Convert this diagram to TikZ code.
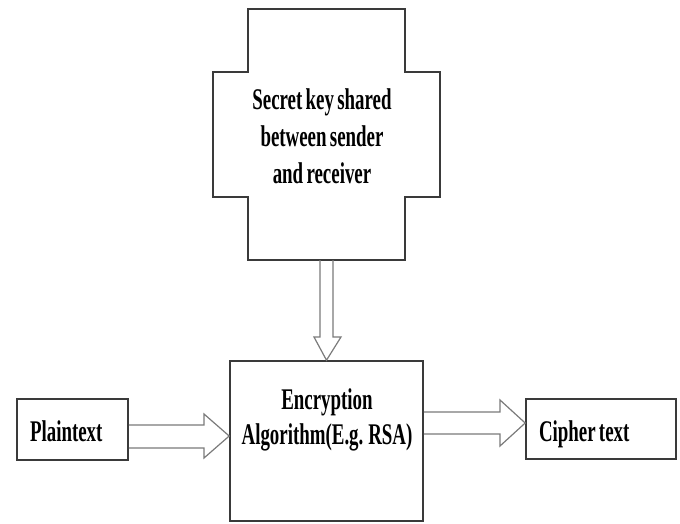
\documentclass[tikz,border=0pt]{standalone}
\usepackage{fontspec}
\setmainfont[FakeStretch=0.63, WordSpace=0.7]{Liberation Serif}
\usetikzlibrary{positioning,calc}
\definecolor{edge}{HTML}{3a3a3a}
\definecolor{shaft}{HTML}{7a7a7a}

\begin{document}
\begin{tikzpicture}[x=1pt, y=-1pt,
    box/.style={draw=edge, line width=1.6pt, inner sep=0pt},
    lbl/.style={font=\fontsize{30}{37}\selectfont\bfseries, align=center},
    hollow/.style={draw=shaft, line width=1.2pt, line join=miter}]
  \useasboundingbox (0,0) rectangle (680,523);
  % shared key (cross outline)
  \draw[edge, line width=1.6pt] (248,9) -- (405,9) -- (405,72) -- (440,72) -- (440,197)
    -- (405,197) -- (405,260) -- (248,260) -- (248,197) -- (213,197) -- (213,72)
    -- (248,72) -- cycle;
  \coordinate (keybot) at (326.5,260);
  \node[lbl] (key) at (322,136) {Secret key shared\\between sender\\and receiver};
  % boxes
  \node[box, minimum width=111pt, minimum height=61pt, text width=85pt, inner xsep=13pt,
    text height=24pt, text depth=0pt, lbl, align=flush left] (plain) at (72.5,429.5) {Plaintext};
  \node[box, minimum width=193pt, minimum height=160pt] (enc) at (326.5,441) {};
  \node[lbl, font=\fontsize{30}{35}\selectfont\bfseries] (enctext) at (327,420)
    {Encryption\\Algorithm(E.g. RSA)};
  \node[box, minimum width=150pt, minimum height=60pt, text width=124pt, inner xsep=13pt,
    text height=24pt, text depth=0pt, lbl, align=flush left] (cipher) at (601,429) {Cipher text};
  % hollow arrows
  \draw[hollow] ($(keybot)+(-6.5,0)$) -- (320,337) -- (314,337) -- (enc.north)
    -- (341,337) -- (333,337) -- ($(keybot)+(6.5,0)$);
  \draw[hollow] (plain.east |- 0,425) -- (204,425) -- (204,414) -- (enc.west |- 0,436)
    -- (204,458) -- (204,448) -- (plain.east |- 0,448);
  \draw[hollow] (enc.east |- 0,412) -- (500,412) -- (500,400) -- (cipher.west |- 0,423)
    -- (500,446) -- (500,434) -- (enc.east |- 0,434);
\end{tikzpicture}
\end{document}
